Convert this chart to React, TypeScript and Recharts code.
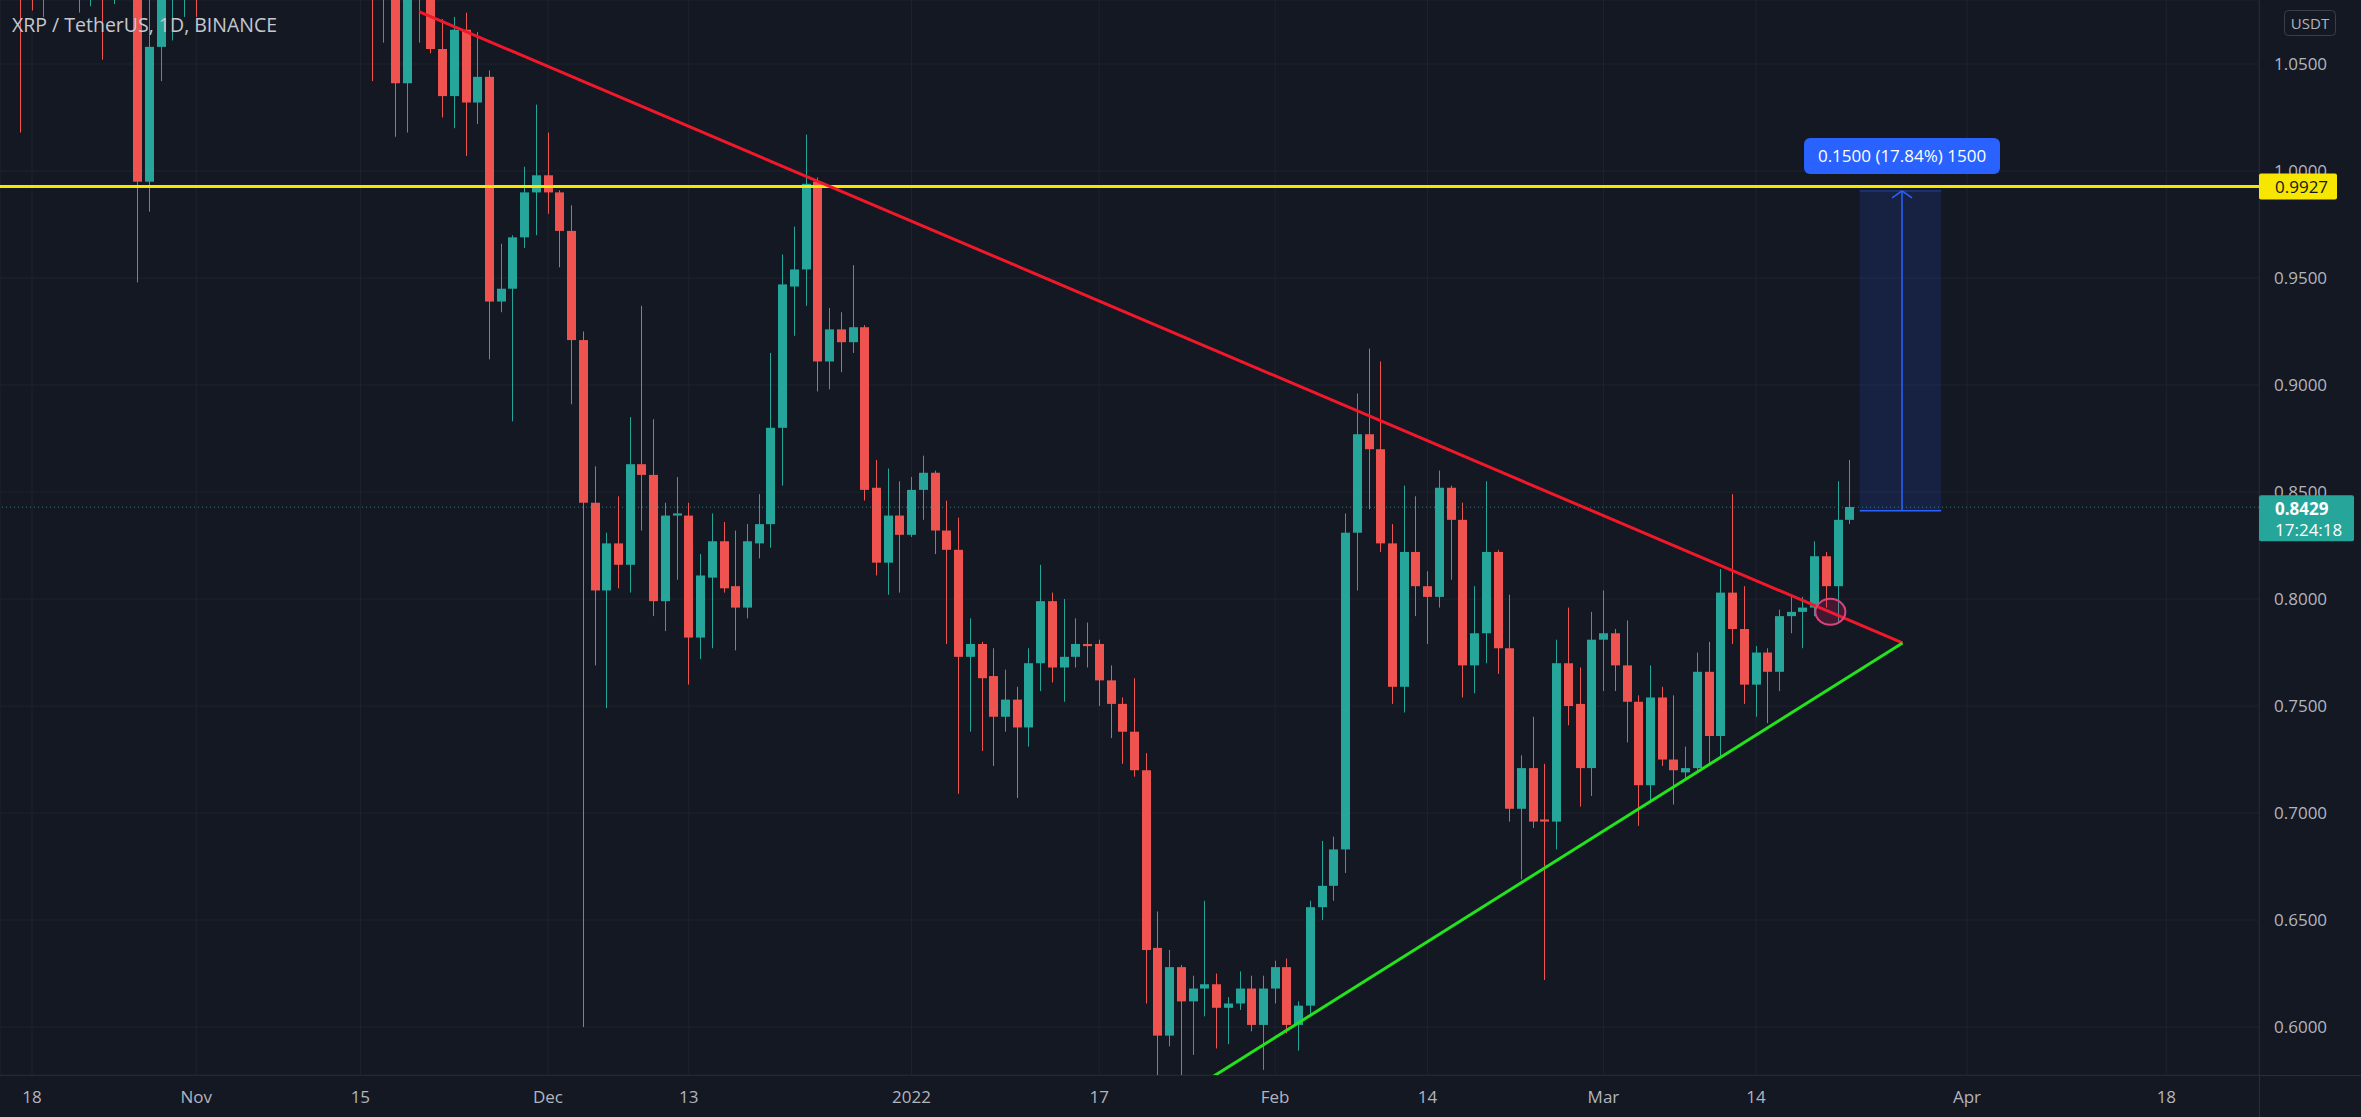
import React from 'react';
import {
  ComposedChart,
  Bar,
  XAxis,
  YAxis,
  CartesianGrid,
  ReferenceLine,
  ReferenceArea,
  ReferenceDot,
} from 'recharts';

// ---------- data ----------
const BASE_DATE = '2021-10-18';

// [open, high, low, close] per day, one block per month
const OCT_START = '2021-10-16';
const OCT: number[][] = [
  [1.13, 1.16, 1.10, 1.12], [1.12, 1.13, 1.018, 1.09], [1.09, 1.12, 1.075, 1.08], [1.08, 1.11, 1.072, 1.10],
  [1.10, 1.13, 1.09, 1.12], [1.12, 1.16, 1.09, 1.10], [1.10, 1.12, 1.074, 1.11], [1.11, 1.13, 1.077, 1.12],
  [1.12, 1.13, 1.052, 1.10], [1.10, 1.13, 1.078, 1.12], [1.12, 1.14, 1.09, 1.10], [1.10, 1.11, 0.948, 0.995],
  [0.995, 1.10, 0.981, 1.058], [1.058, 1.12, 1.042, 1.095], [1.095, 1.11, 1.061, 1.10], [1.10, 1.12, 1.072, 1.11],
];
const NOV_START = '2021-11-01';
const NOV: number[][] = [
  [1.11, 1.14, 1.072, 1.10], [1.10, 1.17, 1.09, 1.15], [1.15, 1.18, 1.10, 1.16], [1.16, 1.20, 1.13, 1.19],
  [1.19, 1.22, 1.15, 1.17], [1.17, 1.20, 1.14, 1.18], [1.18, 1.23, 1.17, 1.22], [1.22, 1.28, 1.20, 1.26],
  [1.26, 1.30, 1.22, 1.25], [1.25, 1.35, 1.15, 1.19], [1.19, 1.23, 1.17, 1.21], [1.21, 1.23, 1.15, 1.19],
  [1.19, 1.22, 1.17, 1.20], [1.20, 1.21, 1.16, 1.19], [1.19, 1.23, 1.16, 1.17], [1.17, 1.18, 1.042, 1.09],
  [1.09, 1.11, 1.06, 1.10], [1.10, 1.12, 1.016, 1.041], [1.041, 1.10, 1.018, 1.09], [1.09, 1.12, 1.06, 1.10],
  [1.10, 1.11, 1.055, 1.057], [1.057, 1.071, 1.025, 1.035], [1.035, 1.072, 1.020, 1.066], [1.066, 1.074, 1.007, 1.032],
  [1.032, 1.065, 1.022, 1.044], [1.044, 1.047, 0.912, 0.939], [0.939, 0.966, 0.934, 0.945], [0.945, 0.970, 0.883, 0.969],
  [0.969, 1.002, 0.964, 0.990], [0.990, 1.031, 0.970, 0.998],
];
const DEC_START = '2021-12-01';
const DEC: number[][] = [
  [0.998, 1.018, 0.980, 0.990], [0.990, 0.991, 0.955, 0.972], [0.972, 0.984, 0.891, 0.921], [0.921, 0.925, 0.600, 0.845],
  [0.845, 0.862, 0.769, 0.804], [0.804, 0.831, 0.749, 0.826], [0.826, 0.848, 0.805, 0.816], [0.816, 0.885, 0.803, 0.863],
  [0.863, 0.937, 0.832, 0.858], [0.858, 0.884, 0.792, 0.799], [0.799, 0.845, 0.785, 0.839], [0.839, 0.857, 0.809, 0.840],
  [0.839, 0.845, 0.760, 0.782], [0.782, 0.821, 0.772, 0.811], [0.810, 0.840, 0.777, 0.827], [0.827, 0.836, 0.803, 0.805],
  [0.806, 0.832, 0.776, 0.796], [0.796, 0.835, 0.791, 0.827], [0.826, 0.849, 0.819, 0.835], [0.835, 0.915, 0.824, 0.880],
  [0.880, 0.961, 0.853, 0.947], [0.946, 0.974, 0.923, 0.954], [0.954, 1.017, 0.937, 0.994], [0.995, 0.997, 0.897, 0.911],
  [0.911, 0.936, 0.898, 0.926], [0.926, 0.934, 0.906, 0.920], [0.920, 0.956, 0.915, 0.927], [0.927, 0.928, 0.846, 0.851],
  [0.852, 0.865, 0.811, 0.817], [0.817, 0.861, 0.802, 0.839], [0.839, 0.855, 0.803, 0.830],
];
const JAN_START = '2022-01-01';
const JAN: number[][] = [
  [0.830, 0.857, 0.829, 0.851], [0.851, 0.867, 0.837, 0.859], [0.859, 0.860, 0.821, 0.832], [0.832, 0.846, 0.779, 0.823],
  [0.823, 0.838, 0.709, 0.773], [0.773, 0.791, 0.738, 0.779], [0.779, 0.780, 0.729, 0.763], [0.764, 0.777, 0.722, 0.745],
  [0.745, 0.767, 0.738, 0.753], [0.753, 0.759, 0.707, 0.740], [0.740, 0.777, 0.731, 0.770], [0.770, 0.816, 0.757, 0.799],
  [0.799, 0.803, 0.761, 0.768], [0.768, 0.800, 0.752, 0.773], [0.773, 0.791, 0.768, 0.779], [0.779, 0.789, 0.768, 0.778],
  [0.779, 0.781, 0.750, 0.762], [0.762, 0.769, 0.735, 0.751], [0.751, 0.754, 0.723, 0.738], [0.738, 0.763, 0.717, 0.720],
  [0.720, 0.728, 0.611, 0.636], [0.637, 0.654, 0.570, 0.596], [0.596, 0.636, 0.591, 0.628], [0.628, 0.629, 0.572, 0.612],
  [0.612, 0.624, 0.587, 0.618], [0.618, 0.659, 0.605, 0.620], [0.620, 0.625, 0.590, 0.609], [0.609, 0.614, 0.592, 0.611],
  [0.611, 0.626, 0.608, 0.618], [0.618, 0.624, 0.598, 0.601], [0.601, 0.624, 0.580, 0.618],
];
const FEB_START = '2022-02-01';
const FEB: number[][] = [
  [0.618, 0.631, 0.611, 0.628], [0.628, 0.632, 0.597, 0.601], [0.601, 0.612, 0.589, 0.610], [0.610, 0.659, 0.606, 0.656],
  [0.656, 0.687, 0.650, 0.666], [0.666, 0.689, 0.659, 0.683], [0.683, 0.840, 0.672, 0.831], [0.831, 0.896, 0.804, 0.877],
  [0.877, 0.917, 0.842, 0.870], [0.870, 0.911, 0.822, 0.826], [0.826, 0.835, 0.751, 0.759], [0.759, 0.853, 0.747, 0.822],
  [0.822, 0.848, 0.792, 0.806], [0.806, 0.813, 0.779, 0.801], [0.801, 0.860, 0.796, 0.852], [0.852, 0.853, 0.809, 0.837],
  [0.837, 0.845, 0.754, 0.769], [0.769, 0.806, 0.756, 0.784], [0.784, 0.855, 0.770, 0.822], [0.822, 0.823, 0.765, 0.777],
  [0.777, 0.802, 0.696, 0.702], [0.702, 0.727, 0.669, 0.721], [0.721, 0.745, 0.693, 0.696], [0.697, 0.723, 0.622, 0.696],
  [0.696, 0.781, 0.683, 0.770], [0.770, 0.796, 0.741, 0.750], [0.751, 0.768, 0.703, 0.721], [0.721, 0.794, 0.708, 0.781],
];
const MAR_START = '2022-03-01';
const MAR: number[][] = [
  [0.781, 0.804, 0.757, 0.784], [0.784, 0.786, 0.757, 0.769], [0.769, 0.790, 0.733, 0.752], [0.752, 0.755, 0.694, 0.713],
  [0.713, 0.769, 0.705, 0.754], [0.754, 0.759, 0.722, 0.725], [0.725, 0.755, 0.704, 0.720], [0.719, 0.731, 0.715, 0.721],
  [0.721, 0.775, 0.720, 0.766], [0.766, 0.780, 0.722, 0.736], [0.736, 0.814, 0.726, 0.803], [0.803, 0.849, 0.779, 0.786],
  [0.786, 0.806, 0.751, 0.760], [0.760, 0.778, 0.745, 0.775], [0.775, 0.777, 0.742, 0.766], [0.766, 0.795, 0.757, 0.792],
  [0.792, 0.802, 0.784, 0.794], [0.794, 0.801, 0.777, 0.796], [0.796, 0.827, 0.792, 0.820], [0.820, 0.822, 0.796, 0.806],
  [0.806, 0.855, 0.789, 0.837], [0.837, 0.865, 0.835, 0.843],
];

// axis ticks
const X_TICK_DATES = ['2021-10-18', '2021-11-01', '2021-11-15', '2021-12-01', '2021-12-13', '2022-01-01',
  '2022-01-17', '2022-02-01', '2022-02-14', '2022-03-01', '2022-03-14', '2022-04-01', '2022-04-18'];
const X_TICK_LABELS = ['18', 'Nov', '15', 'Dec', '13', '2022', '17', 'Feb', '14', 'Mar', '14', 'Apr', '18'];
const Y_TICKS = [0.6, 0.65, 0.7, 0.75, 0.8, 0.85, 0.9, 0.95, 1.0, 1.05];

// annotations (day offsets from BASE_DATE, prices)
const RESIST_PRICE = 0.9927;
const LAST_PRICE = 0.8429;
const COUNTDOWN = '17:24:18';
const RED_TREND = [{ x: 33.0, y: 1.0745 }, { x: 159.5, y: 0.7795 }];
const GREEN_TREND = [{ x: 95.0, y: 0.5572 }, { x: 159.5, y: 0.7795 }];
const TARGET_BOX = { x1: 155.85, x2: 162.8, y1: 0.8413, y2: 0.9907 };
const TARGET_ARROW_X = 159.46;
const TARGET_LABEL = '0.1500 (17.84%) 1500';
const BREAK_POINT = { x: 153.35, y: 0.794 };
const TITLE = 'XRP / TetherUS, 1D, BINANCE';
const CURRENCY = 'USDT';

// ---------- layout / style ----------
const W = 2361;
const H = 1117;
const X_AXIS_H = 42;
const Y_AXIS_W = 102;
const X_DOMAIN: [number, number] = [-2.73, 189.9];
const Y_DOMAIN: [number, number] = [0.5776, 1.0799];
const FONT = '"Open Sans", "DejaVu Sans", sans-serif';
const BG = '#141823';
const GRID = '#1f232e';
const SEP = '#2a2e39';
const TEXT = '#b2b5be';
const UP = '#26a69a';
const DOWN = '#ef5350';
const YELLOW = '#f7e600';
const BLUE = '#2962ff';

const MS_DAY = 86400000;
const dayOf = (iso: string) =>
  Math.round((Date.parse(iso + 'T00:00:00Z') - Date.parse(BASE_DATE + 'T00:00:00Z')) / MS_DAY);

const BLOCKS: [string, number[][]][] = [
  [OCT_START, OCT], [NOV_START, NOV], [DEC_START, DEC], [JAN_START, JAN], [FEB_START, FEB], [MAR_START, MAR],
];
const rows = BLOCKS.flatMap(([start, arr]) =>
  arr.map(([open, high, low, close], i) => ({ d: dayOf(start) + i, open, high, low, close })),
);
const X_TICKS = X_TICK_DATES.map(dayOf);
const xLabel = (v: number) => {
  const i = X_TICKS.indexOf(v);
  return i >= 0 ? X_TICK_LABELS[i] : '';
};

const Candle = (props: any) => {
  const { x, y, width, height, payload } = props;
  if (x == null || y == null || !payload) return null;
  const { open, close, high, low } = payload;
  const span = high - low;
  const toY = (v: number) => (span > 0 ? y + ((high - v) / span) * height : y);
  const cx = Math.round(x + width / 2) + 0.5;
  const color = close >= open ? UP : DOWN;
  const top = toY(Math.max(open, close));
  const bot = toY(Math.min(open, close));
  return (
    <g>
      <line x1={cx} x2={cx} y1={y} y2={y + height} stroke={color} strokeWidth={1} />
      <rect x={cx - 4.5} y={top} width={9} height={Math.max(1, bot - top)} fill={color} />
    </g>
  );
};

const YellowTag = (props: any) => {
  const { cx, cy } = props;
  if (cx == null || cy == null) return null;
  return (
    <g>
      <rect x={cx} y={cy - 13} width={78} height={26} fill={YELLOW} rx={2} />
      <text x={cx + 16} y={cy} dominantBaseline="central" fontSize={17} fontFamily={FONT} fill="#131722">
        {RESIST_PRICE.toFixed(4)}
      </text>
    </g>
  );
};

const LastTag = (props: any) => {
  const { cx, cy } = props;
  if (cx == null || cy == null) return null;
  return (
    <g>
      <rect x={cx} y={cy - 12} width={95} height={46} fill={UP} rx={2} />
      <text x={cx + 16} y={cy + 1} dominantBaseline="central" fontSize={17} fontWeight={700} fontFamily={FONT} fill="#ffffff">
        {LAST_PRICE.toFixed(4)}
      </text>
      <text x={cx + 16} y={cy + 22} dominantBaseline="central" fontSize={17} fontFamily={FONT} fill="#ffffff">
        {COUNTDOWN}
      </text>
    </g>
  );
};

const MeasureLabel = (props: any) => {
  const { cx, cy } = props;
  if (cx == null || cy == null) return null;
  return (
    <g>
      <rect x={cx - 98} y={cy - 53} width={196} height={36} rx={6} fill={BLUE} />
      <text x={cx} y={cy - 35} textAnchor="middle" dominantBaseline="central" fontSize={17} fontFamily={FONT} fill="#ffffff">
        {TARGET_LABEL}
      </text>
    </g>
  );
};

const BreakCircle = (props: any) => {
  const { cx, cy } = props;
  if (cx == null || cy == null) return null;
  return <ellipse cx={cx} cy={cy} rx={15} ry={13} fill="rgba(233,30,99,0.22)" stroke="#d8457c" strokeWidth={2} />;
};

export default function App() {
  const top = TARGET_BOX.y2;
  return (
    <div style={{ position: 'absolute', left: 0, top: 0, width: W, height: H, background: BG, overflow: 'hidden', fontFamily: FONT }}>
      <div style={{ position: 'absolute', left: W - Y_AXIS_W, top: 0, width: 1, height: H, background: SEP }} />
      <div style={{ position: 'absolute', left: 0, top: H - X_AXIS_H, width: W, height: 1, background: SEP }} />
      <div style={{ position: 'absolute', left: 0, top: 0 }}>
        <ComposedChart width={W} height={H} data={rows} margin={{ top: 0, right: 0, bottom: 0, left: 0 }}>
          <CartesianGrid stroke={GRID} strokeWidth={1} />
          <XAxis
            type="number"
            dataKey="d"
            domain={X_DOMAIN}
            allowDataOverflow
            ticks={X_TICKS}
            interval={0}
            tickFormatter={xLabel}
            axisLine={false}
            tickLine={false}
            tickSize={8}
            tickMargin={8}
            height={X_AXIS_H}
            tick={{ fill: TEXT, fontSize: 17, fontFamily: FONT }}
          />
          <YAxis
            orientation="right"
            domain={Y_DOMAIN}
            allowDataOverflow
            ticks={Y_TICKS}
            interval={0}
            tickFormatter={(v: number) => v.toFixed(4)}
            axisLine={false}
            tickLine={false}
            tickSize={7}
            tickMargin={8}
            width={Y_AXIS_W}
            tick={{ fill: TEXT, fontSize: 17, fontFamily: FONT }}
          />
          <ReferenceArea
            x1={TARGET_BOX.x1}
            x2={TARGET_BOX.x2}
            y1={TARGET_BOX.y1}
            y2={TARGET_BOX.y2}
            fill="rgba(41,98,255,0.28)"
            stroke="none"
          />
          <ReferenceLine
            segment={[{ x: TARGET_BOX.x1, y: TARGET_BOX.y1 }, { x: TARGET_BOX.x2, y: TARGET_BOX.y1 }]}
            stroke={BLUE}
            strokeWidth={1.5}
          />
          <ReferenceLine
            segment={[{ x: TARGET_BOX.x1, y: top }, { x: TARGET_BOX.x2, y: top }]}
            stroke={BLUE}
            strokeOpacity={0.6}
            strokeWidth={1}
          />
          <ReferenceLine
            segment={[{ x: TARGET_ARROW_X, y: TARGET_BOX.y1 }, { x: TARGET_ARROW_X, y: top }]}
            stroke={BLUE}
            strokeWidth={1.5}
          />
          <ReferenceLine
            segment={[{ x: TARGET_ARROW_X - 0.85, y: top - 0.0033 }, { x: TARGET_ARROW_X, y: top }]}
            stroke={BLUE}
            strokeWidth={1.5}
          />
          <ReferenceLine
            segment={[{ x: TARGET_ARROW_X + 0.85, y: top - 0.0033 }, { x: TARGET_ARROW_X, y: top }]}
            stroke={BLUE}
            strokeWidth={1.5}
          />
          <ReferenceLine y={LAST_PRICE} stroke={UP} strokeOpacity={0.75} strokeWidth={1} strokeDasharray="1 3" />
          <Bar
            dataKey={(r: any) => [r.low, r.high]}
            shape={Candle}
            barSize={9}
            isAnimationActive={false}
          />
          <ReferenceLine y={RESIST_PRICE} stroke={YELLOW} strokeWidth={3} />
          <ReferenceLine segment={RED_TREND} stroke="#f2182b" strokeWidth={3} ifOverflow="hidden" />
          <ReferenceLine segment={GREEN_TREND} stroke="#22e31c" strokeWidth={3} ifOverflow="hidden" />
          <ReferenceDot x={BREAK_POINT.x} y={BREAK_POINT.y} r={14} shape={BreakCircle} ifOverflow="visible" />
          <ReferenceDot x={TARGET_ARROW_X} y={top} r={1} shape={MeasureLabel} ifOverflow="visible" />
          <ReferenceDot x={X_DOMAIN[1]} y={RESIST_PRICE} r={1} shape={YellowTag} ifOverflow="visible" zIndex={2000} />
          <ReferenceDot x={X_DOMAIN[1]} y={LAST_PRICE} r={1} shape={LastTag} ifOverflow="visible" zIndex={2000} />
        </ComposedChart>
      </div>
      <svg width={W} height={H} style={{ position: 'absolute', left: 0, top: 0, pointerEvents: 'none' }}>
        <text x={12} y={32} fontSize={19.5} fontFamily={FONT} fill="#c5c8cf">
          {TITLE}
        </text>
        <rect x={2284.5} y={10.5} width={51} height={25} rx={4} fill={BG} stroke="#3a3e4a" strokeWidth={1} />
        <text x={2310} y={23} textAnchor="middle" dominantBaseline="central" fontSize={15} fontFamily={FONT} fill={TEXT}>
          {CURRENCY}
        </text>
      </svg>
    </div>
  );
}
